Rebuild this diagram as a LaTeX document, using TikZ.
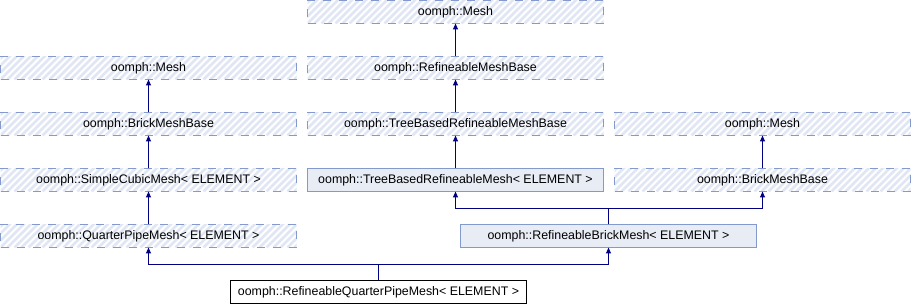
\documentclass[tikz,border=0pt]{standalone}
\usepackage{fontspec}
\setmainfont{Liberation Sans}
\usetikzlibrary{arrows.meta}

\definecolor{edgeblue}{RGB}{132,153,204}
\definecolor{boxfill}{RGB}{232,236,245}
\definecolor{stripe}{RGB}{224,230,243}
\definecolor{arrowblue}{RGB}{0,0,128}

\tikzset{
  cls/.style={minimum width=296pt, minimum height=23pt, inner sep=0pt, outer sep=0pt,
    line width=1pt, font=\fontsize{12.4}{14}\selectfont},
  doc/.style={cls, draw=edgeblue, fill=boxfill},
  undoc/.style={cls, draw=edgeblue, dash pattern=on 8pt off 8pt,
    path picture={\foreach \k in {-28,-21,...,300}
      \draw[stripe, solid, line width=2.5pt] ([xshift=\k pt]path picture bounding box.south west) -- ++(26pt,26pt);}},
  this/.style={cls, draw=black},
  inh/.style={draw=arrowblue, line width=1pt, -{Triangle[length=6pt,width=5pt]}}
}

\begin{document}
\begin{tikzpicture}[x=1pt,y=-1pt]
\useasboundingbox (0,0) rectangle (911,304);
% middle column
\node[undoc] (mesh) at (455.5,12) {oomph::Mesh};
\node[undoc] (rmb) at (455.5,68) {oomph::RefineableMeshBase};
\node[undoc] (tbrmb) at (455.5,124) {oomph::TreeBasedRefineableMeshBase};
\node[doc] (tbrm) at (455.5,180) {oomph::TreeBasedRefineableMesh< ELEMENT >};
% left column
\node[undoc] (meshA) at (148.5,68) {oomph::Mesh};
\node[undoc] (bmbA) at (148.5,124) {oomph::BrickMeshBase};
\node[undoc] (scm) at (148.5,180) {oomph::SimpleCubicMesh< ELEMENT >};
\node[undoc] (qpm) at (148.5,236) {oomph::QuarterPipeMesh< ELEMENT >};
% right column
\node[undoc] (meshC) at (762.5,124) {oomph::Mesh};
\node[undoc] (bmbC) at (762.5,180) {oomph::BrickMeshBase};
\node[doc] (rbm) at (608.5,236) {oomph::RefineableBrickMesh< ELEMENT >};
\node[this] (rqpm) at (378.5,292) {oomph::RefineableQuarterPipeMesh< ELEMENT >};

\draw[inh] (rmb) -- (mesh);
\draw[inh] (tbrmb) -- (rmb);
\draw[inh] (tbrm) -- (tbrmb);
\draw[inh] (bmbA) -- (meshA);
\draw[inh] (scm) -- (bmbA);
\draw[inh] (qpm) -- (scm);
\draw[inh] (bmbC) -- (meshC);
\draw[inh] (rbm.north) -- ++(0,-16) -| (tbrm.south);
\draw[inh] (rbm.north) -- ++(0,-16) -| (bmbC.south);
\draw[inh] (rqpm.north) -- ++(0,-16) -| (qpm.south);
\draw[inh] (rqpm.north) -- ++(0,-16) -| (rbm.south);
\end{tikzpicture}
\end{document}
